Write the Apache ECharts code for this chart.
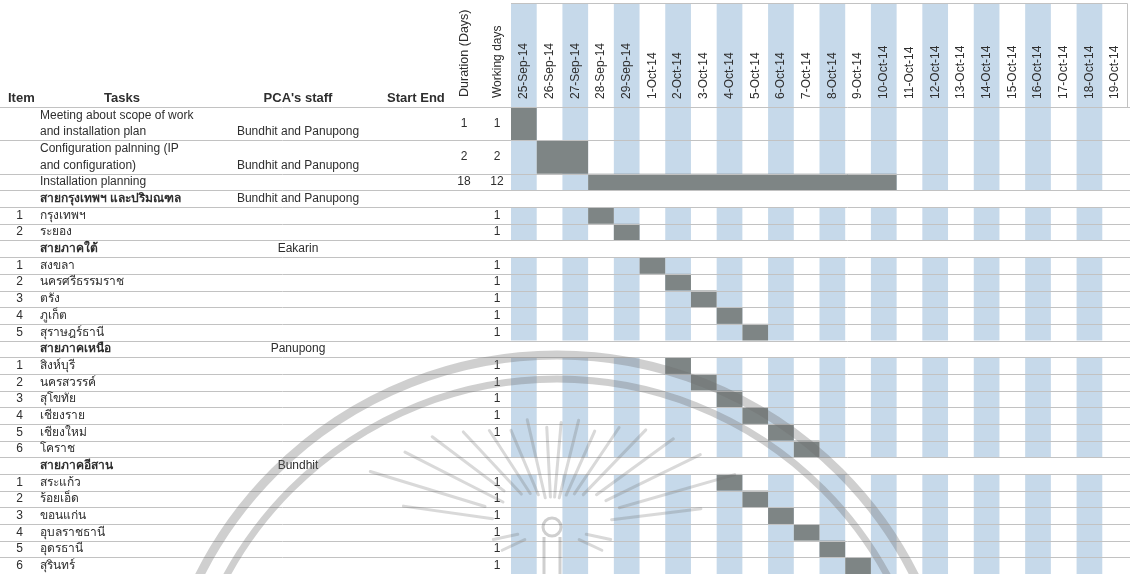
<!DOCTYPE html>
<html><head><meta charset="utf-8">
<script src="https://cdn.jsdelivr.net/npm/echarts@6/dist/echarts.min.js"></script>
<style>html,body{margin:0;padding:0;background:#fff}#c{width:1136px;height:574px}</style>
</head><body><div id="c"></div>
<script>
const dates = ['25-Sep-14','26-Sep-14','27-Sep-14','28-Sep-14','29-Sep-14','1-Oct-14','2-Oct-14','3-Oct-14','4-Oct-14','5-Oct-14','6-Oct-14','7-Oct-14','8-Oct-14','9-Oct-14','10-Oct-14','11-Oct-14','12-Oct-14','13-Oct-14','14-Oct-14','15-Oct-14','16-Oct-14','17-Oct-14','18-Oct-14','19-Oct-14'];
const itemNos = ['','','','','1','2','','1','2','3','4','5','','1','2','3','4','5','6','','1','2','3','4','5','6'];
const tasks = ['Meeting about scope of work\nand installation plan','Configuration palnning (IP\nand configuration)','Installation planning','สายกรุงเทพฯ และปริมณฑล','กรุงเทพฯ','ระยอง','สายภาคใต้','สงขลา','นครศรีธรรมราช','ตรัง','ภูเก็ต','สุราษฎร์ธานี','สายภาคเหนือ','สิงห์บุรี','นครสวรรค์','สุโขทัย','เชียงราย','เชียงใหม่','โคราช','สายภาคอีสาน','สระแก้ว','ร้อยเอ็ด','ขอนแก่น','อุบลราชธานี','อุดรธานี','สุรินทร์'];
const isSection = [0,0,0,1,0,0,1,0,0,0,0,0,1,0,0,0,0,0,0,1,0,0,0,0,0,0];
const staff = ['Bundhit and Panupong','Bundhit and Panupong','','Bundhit and Panupong','','','Eakarin','','','','','','Panupong','','','','','','','Bundhit','','','','','',''];
const durationDays = ['1','2','18','','','','','','','','','','','','','','','','','','','','','','',''];
const workingDays = ['1','2','12','','1','1','','1','1','1','1','1','','1','1','1','1','1','','','1','1','1','1','1','1'];
const barStart = [0,1,3,null,3,4,null,5,6,7,8,9,null,6,7,8,9,10,11,null,8,9,10,11,12,13];
const barLength = [1,2,12,0,1,1,0,1,1,1,1,1,0,1,1,1,1,1,1,0,1,1,1,1,1,1];
const rowSpan = [2,2,1,1,1,1,1,1,1,1,1,1,1,1,1,1,1,1,1,1,1,1,1,1,1,1];

const HEADER = 6.24;
const rowTop = [];
{ let t = 0; for (const s of rowSpan) { rowTop.push(t); t += s; } }
const TOTAL = rowTop[rowTop.length-1] + rowSpan[rowSpan.length-1];

const FONT = '"Liberation Sans", Arial, "Noto Sans", sans-serif';
const TEXT = '#2e2e2e';
const BLUE = '#c6d9ea';
const BAR = '#7e8585';
const LINE = '#c2c2c2';
const WM = 'rgba(110,110,110,0.33)';
const WM_RAY = 'rgba(110,110,110,0.26)';

const chart = echarts.init(document.getElementById('c'), null, {renderer:'canvas'});

function colRect(api, c0, c1, y0, y1) {
  const w = api.size([1, 0])[0];
  const p0 = api.coord([c0, y0]);
  const p1 = api.coord([c1, y1]);
  return {x: p0[0] - w/2, y: p0[1], width: p1[0] - p0[0] + w, height: p1[1] - p0[1]};
}

const bandData = dates.map((d, i) => [i, 0]).filter(d => d[0] % 2 === 0);
const sectionData = [];
isSection.forEach((s, i) => { if (s) sectionData.push([0, rowTop[i], rowSpan[i]]); });
const barData = [];
barStart.forEach((s, i) => { if (s !== null) barData.push([s, rowTop[i], barLength[i], rowSpan[i]]); });
const lineData = [[0, 0]].concat(rowTop.map((t, i) => [0, t + rowSpan[i]]));
const textData = tasks.map((t, i) => [0, rowTop[i]]);

// watermark (decorative seal): rays as [angle deg, inner px, outer px]
const WM_CX = 552, WM_CY = 527;
const rays = [[-172,60,150],[-163,70,190],[-153,55,165],[-143,60,150],[-133,45,130],[-123,40,115],[-113,35,105],[-103,30,110],[-93,30,100],[-85,30,105],[-76,30,110],[-66,35,105],[-56,40,120],[-46,45,135],[-36,55,150],[-26,60,165],[-16,70,190],[-7,60,150],[12,35,60],[25,30,55],[155,30,55],[168,35,60]];
const wmGraphics = rays.map(r => {
  const a = r[0] * Math.PI / 180;
  return {type: 'line', z: 20, silent: true,
    shape: {x1: WM_CX + r[1] * Math.cos(a), y1: WM_CY + r[1] * Math.sin(a), x2: WM_CX + r[2] * Math.cos(a), y2: WM_CY + r[2] * Math.sin(a)},
    style: {stroke: WM_RAY, lineWidth: 3, lineCap: 'round'}};
});
wmGraphics.push(
  {type: 'arc', z: 20, silent: true, shape: {cx: 557, cy: 755, r: 400, startAngle: -Math.PI, endAngle: 0}, style: {stroke: WM, lineWidth: 9, fill: null}},
  {type: 'arc', z: 20, silent: true, shape: {cx: 557, cy: 755, r: 376, startAngle: -Math.PI, endAngle: 0}, style: {stroke: WM, lineWidth: 7, fill: null}},
  {type: 'circle', z: 20, silent: true, shape: {cx: WM_CX, cy: WM_CY, r: 9}, style: {stroke: WM, lineWidth: 3, fill: null}},
  {type: 'line', z: 20, silent: true, shape: {x1: WM_CX - 8, y1: WM_CY + 10, x2: WM_CX - 8, y2: 574}, style: {stroke: WM, lineWidth: 3}},
  {type: 'line', z: 20, silent: true, shape: {x1: WM_CX + 8, y1: WM_CY + 10, x2: WM_CX + 8, y2: 574}, style: {stroke: WM, lineWidth: 3}}
);

const option = {
  animation: false,
  backgroundColor: '#fff',
  grid: {left: 511, right: 8, top: 3, bottom: 0, outerBoundsMode: 'none', containLabel: false},
  xAxis: {
    type: 'category', data: dates, position: 'top', offset: -104, z: 10,
    axisLine: {show: false}, axisTick: {show: false}, splitLine: {show: false},
    axisLabel: {rotate: 90, margin: 8, fontSize: 12, fontFamily: FONT, color: TEXT, interval: 0, hideOverlap: false}
  },
  yAxis: {type: 'value', min: -HEADER, max: TOTAL, inverse: true, show: false},
  series: [
    { type: 'custom', name: 'bands', data: bandData, encode: {x: 0, y: 1}, silent: true, z: 1,
      renderItem: (p, api) => ({type: 'rect', shape: colRect(api, api.value(0), api.value(0), -HEADER, TOTAL), style: {fill: BLUE}}) },
    { type: 'custom', name: 'sections', data: sectionData, encode: {x: 0, y: 1}, silent: true, z: 2,
      renderItem: (p, api) => ({type: 'rect', shape: colRect(api, 0, dates.length - 1, api.value(1), api.value(1) + api.value(2)), style: {fill: '#fff'}}) },
    { type: 'custom', name: 'bars', data: barData, encode: {x: 0, y: 1}, silent: true, z: 3,
      renderItem: (p, api) => ({type: 'rect', shape: colRect(api, api.value(0), api.value(0) + api.value(2) - 1, api.value(1), api.value(1) + api.value(3)), style: {fill: BAR}}) },
    { type: 'custom', name: 'lines', data: lineData, encode: {x: 0, y: 1}, silent: true, z: 4, clip: false,
      renderItem: (p, api) => {
        const y = Math.round(api.coord([0, api.value(1)])[1]) + 0.5;
        return {type: 'line', shape: {x1: 0, y1: y, x2: 1130, y2: y}, style: {stroke: LINE, lineWidth: 1}};
      } },
    { type: 'custom', name: 'headerBox', data: [[0, -HEADER]], encode: {x: 0, y: 1}, silent: true, z: 4, clip: false,
      renderItem: (p, api) => {
        const r = colRect(api, 0, dates.length - 1, -HEADER, 0);
        const x2 = Math.round(r.x + r.width) - 0.5, y1 = Math.round(r.y) + 0.5;
        return {type: 'group', children: [
          {type: 'line', shape: {x1: r.x, y1: y1, x2: x2, y2: y1}, style: {stroke: LINE, lineWidth: 1}},
          {type: 'line', shape: {x1: x2, y1: y1, x2: x2, y2: r.y + r.height}, style: {stroke: LINE, lineWidth: 1}}
        ]};
      } },
    { type: 'custom', name: 'table', data: textData, encode: {x: 0, y: 1}, silent: true, z: 5, clip: false,
      renderItem: (p, api) => {
        const i = p.dataIndex;
        const top = api.coord([0, rowTop[i]])[1];
        const bot = api.coord([0, rowTop[i] + rowSpan[i]])[1];
        const mid = (top + bot) / 2;
        const lowY = rowSpan[i] > 1 ? bot - (bot - top) / 4 : mid;
        const base = {fontFamily: FONT, fontSize: 12, fill: TEXT, verticalAlign: 'middle'};
        const ch = [];
        if (itemNos[i]) ch.push({type: 'text', x: 23, y: mid, style: Object.assign({}, base, {text: itemNos[i], align: 'right'})});
        ch.push({type: 'text', x: 40, y: mid, style: Object.assign({}, base, {text: tasks[i], align: 'left', lineHeight: 16.5, fontWeight: isSection[i] ? 'bold' : 'normal'})});
        if (staff[i]) ch.push({type: 'text', x: 298, y: lowY, style: Object.assign({}, base, {text: staff[i], align: 'center'})});
        if (durationDays[i]) ch.push({type: 'text', x: 464, y: mid, style: Object.assign({}, base, {text: durationDays[i], align: 'center'})});
        if (workingDays[i]) ch.push({type: 'text', x: 497, y: mid, style: Object.assign({}, base, {text: workingDays[i], align: 'center'})});
        return {type: 'group', children: ch};
      } }
  ],
  graphic: [
    {type: 'text', x: 8, y: 98, z: 10, style: {text: 'Item', fontFamily: FONT, fontSize: 13, fontWeight: 'bold', fill: TEXT, align: 'left', verticalAlign: 'middle'}},
    {type: 'text', x: 122, y: 98, z: 10, style: {text: 'Tasks', fontFamily: FONT, fontSize: 13, fontWeight: 'bold', fill: TEXT, align: 'center', verticalAlign: 'middle'}},
    {type: 'text', x: 298, y: 98, z: 10, style: {text: "PCA's staff", fontFamily: FONT, fontSize: 13, fontWeight: 'bold', fill: TEXT, align: 'center', verticalAlign: 'middle'}},
    {type: 'text', x: 387, y: 98, z: 10, style: {text: 'Start End', fontFamily: FONT, fontSize: 13, fontWeight: 'bold', fill: TEXT, align: 'left', verticalAlign: 'middle'}},
    {type: 'text', x: 465, y: 97, rotation: Math.PI / 2, z: 10, style: {text: 'Duration (Days)', fontFamily: FONT, fontSize: 12.5, fill: TEXT, align: 'left', verticalAlign: 'middle'}},
    {type: 'text', x: 498, y: 98, rotation: Math.PI / 2, z: 10, style: {text: 'Working days', fontFamily: FONT, fontSize: 12, fill: TEXT, align: 'left', verticalAlign: 'middle'}}
  ].concat(wmGraphics)
};
chart.setOption(option);
</script></body></html>
